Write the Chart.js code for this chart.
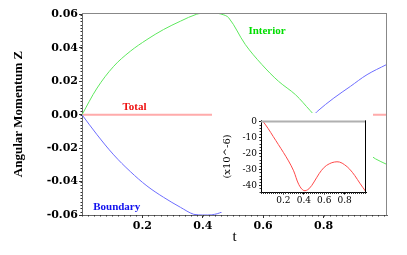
<!DOCTYPE html>
<html>
<head>
<meta charset="utf-8">
<script src="https://cdn.jsdelivr.net/npm/chart.js@4"></script>
<style>
  body { margin: 0; background: #fff; }
  canvas { display: block; }
</style>
</head>
<body>
<div style="position:relative;width:407px;height:255px">
  <canvas id="main" width="407" height="255"></canvas>
  <div style="position:absolute;left:212px;top:113px;width:161px;height:99px;background:#fff">
    <canvas id="inset" width="161" height="99"></canvas>
  </div>
</div>
<script>
// data
const tInterior = [0, 0.05, 0.105, 0.16, 0.215, 0.27, 0.326, 0.38, 0.41, 0.44, 0.46, 0.486, 0.541, 0.596, 0.651, 0.707, 0.756, 0.779, 0.834, 0.889, 0.944, 0.972, 1.008];
const interior = [0, 0.016, 0.029, 0.038, 0.045, 0.051, 0.056, 0.0602, 0.0608, 0.0608, 0.0603, 0.058, 0.042, 0.030, 0.020, 0.012, 0.0024, -0.002, -0.010, -0.017, -0.023, -0.0264, -0.0296];

const tBoundary = [0, 0.05, 0.105, 0.16, 0.215, 0.27, 0.326, 0.37, 0.40, 0.43, 0.464, 0.5, 0.55, 0.6, 0.65, 0.7, 0.75, 0.779, 0.834, 0.889, 0.944, 1.008];
const boundary = [0, -0.012, -0.024, -0.034, -0.0426, -0.0494, -0.0554, -0.0596, -0.0600, -0.0599, -0.058, -0.052, -0.040, -0.029, -0.020, -0.013, -0.0035, 0.002, 0.010, 0.017, 0.024, 0.030];

// total, in units of 1e-6 (inset)
const tTotal = [0, 0.05, 0.1, 0.15, 0.2, 0.25, 0.3, 0.35, 0.4, 0.45, 0.5, 0.55, 0.6, 0.65, 0.7, 0.75, 0.8, 0.85, 0.9, 0.95, 1.01];
const totalMicro = [0, -4.5, -9.5, -14.5, -19.5, -24.8, -31, -39.5, -43.4, -42.3, -38, -32.8, -28.8, -26.6, -25.5, -25.5, -27.2, -30, -34, -38.8, -44.2];

const tickX = [0.2, 0.4, 0.6, 0.8];
const tickY = [-0.06, -0.04, -0.02, 0, 0.02, 0.04, 0.06];
const insetTickX = [0.2, 0.4, 0.6, 0.8];
const insetTickY = [-40, -30, -20, -10, 0];

const labelNames = ["Interior", "Total", "Boundary"];
const labelT = [0.551, 0.134, 0.037];
const labelV = [0.0498, 0.0048, -0.0552];
const labelColors = ["#00dd00", "#ee1111", "#1111ee"];

const pts = (ts, vs, k = 1) => ts.map((t, i) => ({ x: t, y: vs[i] * k }));

const tickFont = { family: "DejaVu Serif", size: 11, weight: "bold" };

// frame, minor ticks and texts
const decor = {
    id: "decor",
    afterDraw(chart, args, o) {
        const { ctx, chartArea: a, scales: { x, y } } = chart;
        ctx.save();
        // top and right border
        ctx.strokeStyle = o.topColor;
        ctx.lineWidth = o.topWidth;
        ctx.beginPath();
        ctx.moveTo(a.left, a.top + o.topWidth / 2);
        ctx.lineTo(a.right, a.top + o.topWidth / 2);
        ctx.stroke();
        ctx.strokeStyle = o.rightColor;
        ctx.lineWidth = 1;
        ctx.beginPath();
        ctx.moveTo(a.right - 0.5, a.top);
        ctx.lineTo(a.right - 0.5, a.bottom);
        ctx.stroke();

        // minor ticks
        ctx.strokeStyle = "#333";
        ctx.lineWidth = 1;
        ctx.beginPath();
        for (let v = Math.ceil(x.min / o.minorX) * o.minorX; v <= x.max; v += o.minorX) {
            const px = Math.round(x.getPixelForValue(v)) + 0.5;
            ctx.moveTo(px, a.bottom);
            ctx.lineTo(px, a.bottom + o.minorLen);
        }
        for (let v = Math.ceil(y.min / o.minorY) * o.minorY; v <= y.max; v += o.minorY) {
            const py = Math.round(y.getPixelForValue(v)) + 0.5;
            ctx.moveTo(a.left, py);
            ctx.lineTo(a.left - o.minorLen, py);
        }
        ctx.stroke();

        // axis titles
        ctx.fillStyle = "#000";
        ctx.textAlign = "center";
        ctx.textBaseline = "middle";
        if (o.xTitle) {
            ctx.font = o.xTitleFont;
            ctx.fillText(o.xTitle, (a.left + a.right) / 2, o.xTitleY);
        }
        ctx.save();
        ctx.translate(o.yTitleX, (a.top + a.bottom) / 2);
        ctx.rotate(-Math.PI / 2);
        ctx.font = o.yTitleFont;
        ctx.fillText(o.yTitle, 0, 0);
        ctx.restore();

        // curve labels
        (o.labels || []).forEach((l) => {
            ctx.font = "bold 11px 'Liberation Serif'";
            ctx.fillStyle = l.color;
            ctx.textAlign = "left";
            ctx.fillText(l.text, x.getPixelForValue(l.t), y.getPixelForValue(l.v));
        });
        ctx.restore();
    },
};

new Chart(document.getElementById("main"), {
    type: "line",
    data: {
        datasets: [
            { label: "Interior", data: pts(tInterior, interior), borderColor: "#5ee85e", borderWidth: 1 },
            { label: "Boundary", data: pts(tBoundary, boundary), borderColor: "#6d6dff", borderWidth: 1 },
            { label: "Total", data: pts(tTotal, totalMicro, 1e-6), borderColor: "#ffabab", borderWidth: 2 },
        ],
    },
    options: {
        responsive: false,
        animation: false,
        events: [],
        layout: { padding: { top: 13, right: 20, left: 0, bottom: 0 } },
        elements: { point: { radius: 0 }, line: { tension: 0.35 } },
        plugins: {
            legend: { display: false },
            tooltip: { enabled: false },
            decor: {
                topColor: "#888", topWidth: 1, rightColor: "#888",
                minorX: 0.02, minorY: 0.002, minorLen: 1.5,
                xTitle: "t", xTitleFont: "15px 'Liberation Serif'", xTitleY: 237,
                yTitle: "Angular Momentum Z", yTitleFont: "bold 13px 'Liberation Serif'", yTitleX: 19,
                labels: labelNames.map((n, i) => ({ text: n, t: labelT[i], v: labelV[i], color: labelColors[i] })),
            },
        },
        scales: {
            x: {
                type: "linear",
                min: 0,
                max: 1.01,
                afterBuildTicks: (s) => { s.ticks = tickX.map((v) => ({ value: v })); },
                afterFit: (s) => { s.height = 40; },
                ticks: { font: tickFont, color: "#000", padding: 2, maxRotation: 0, callback: (v) => v.toFixed(1) },
                grid: { drawOnChartArea: false, tickLength: 3, color: "#333" },
                border: { color: "#666" },
            },
            y: {
                min: -0.06,
                max: 0.0609,
                afterBuildTicks: (s) => { s.ticks = tickY.map((v) => ({ value: v })); },
                afterFit: (s) => { s.width = 82; },
                ticks: { font: tickFont, color: "#000", padding: 1, callback: (v) => v.toFixed(2) },
                grid: { drawOnChartArea: false, tickLength: 3, color: "#333" },
                border: { color: "#666" },
            },
        },
    },
    plugins: [decor],
});

const insetFont = { family: "DejaVu Serif", size: 9 };

new Chart(document.getElementById("inset"), {
    type: "line",
    data: {
        datasets: [
            { label: "Total", data: pts(tTotal, totalMicro), borderColor: "#ff4a4a", borderWidth: 1 },
        ],
    },
    options: {
        responsive: false,
        animation: false,
        events: [],
        layout: { padding: { top: 3, right: 7, left: 0, bottom: 0 } },
        elements: { point: { radius: 0 }, line: { tension: 0.35 } },
        plugins: {
            legend: { display: false },
            tooltip: { enabled: false },
            decor: {
                topColor: "#b0b0b0", topWidth: 2, rightColor: "#000",
                minorX: 0.02, minorY: 2, minorLen: 1.5,
                yTitle: "(x10^-6)", yTitleFont: "10px 'DejaVu Serif'", yTitleX: 15,
            },
        },
        scales: {
            x: {
                type: "linear",
                min: -0.02,
                max: 1.01,
                afterBuildTicks: (s) => { s.ticks = insetTickX.map((v) => ({ value: v })); },
                afterFit: (s) => { s.height = 19.5; },
                ticks: { font: insetFont, color: "#000", padding: 1, maxRotation: 0, callback: (v) => v.toFixed(1) },
                grid: { drawOnChartArea: false, tickLength: 2, color: "#000" },
                border: { color: "#000" },
            },
            y: {
                min: -44.6,
                max: 0.6,
                afterBuildTicks: (s) => { s.ticks = insetTickY.map((v) => ({ value: v })); },
                afterFit: (s) => { s.width = 49; },
                ticks: { font: insetFont, color: "#000", padding: 2, callback: (v) => String(v) },
                grid: { drawOnChartArea: false, tickLength: 2, color: "#000" },
                border: { color: "#000" },
            },
        },
    },
    plugins: [decor],
});
</script>
</body>
</html>
